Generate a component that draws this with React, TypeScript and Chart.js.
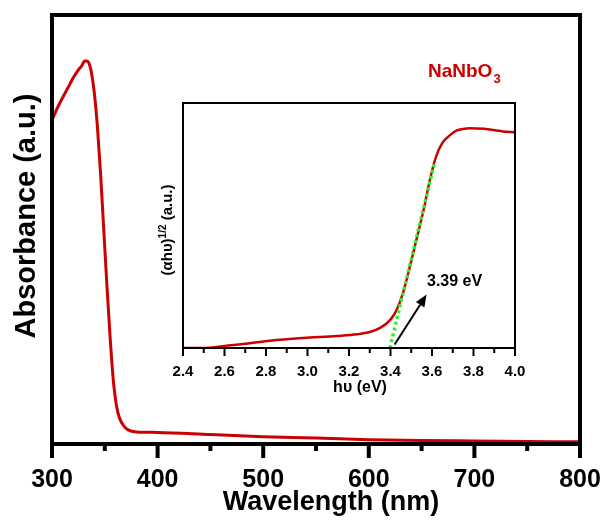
import React, { useEffect, useRef } from 'react';
import { Chart, registerables } from 'chart.js';

Chart.register(...registerables);

// ---------- Data ----------
const wavelengthNm = [300, 305, 310, 315, 320, 325, 328, 331, 333, 335, 337, 340, 343, 346, 349, 352, 355, 358, 361, 364, 368, 372, 380, 400, 450, 500, 550, 600, 650, 700, 750, 800];
const absorbance = [0.755, 0.783, 0.807, 0.83, 0.853, 0.872, 0.881, 0.893, 0.893, 0.888, 0.87, 0.82, 0.74, 0.63, 0.5, 0.37, 0.25, 0.15, 0.09, 0.06, 0.042, 0.033, 0.028, 0.027, 0.022, 0.017, 0.014, 0.01, 0.008, 0.007, 0.006, 0.005];
const mainMajorTicks = [300, 400, 500, 600, 700, 800];
const mainMinorTicks = [350, 450, 550, 650, 750];

const photonEnergyEv = [2.4, 2.5, 2.59, 2.69, 2.82, 2.98, 3.14, 3.24, 3.3, 3.35, 3.4, 3.43, 3.46, 3.49, 3.525, 3.56, 3.59, 3.62, 3.65, 3.69, 3.72, 3.75, 3.78, 3.85, 3.91, 3.94, 4.0];
const tauc = [0, 0, 0.007, 0.016, 0.03, 0.041, 0.049, 0.056, 0.065, 0.082, 0.116, 0.156, 0.224, 0.32, 0.442, 0.565, 0.687, 0.782, 0.837, 0.871, 0.888, 0.894, 0.897, 0.895, 0.888, 0.884, 0.88];
const fitLineEv = [3.397, 3.614];
const fitLineValues = [0, 0.762];
const arrowEv = [3.42, 3.574];
const arrowValues = [0.014, 0.218];
const insetMajorTicks = [2.4, 2.6, 2.8, 3.0, 3.2, 3.4, 3.6, 3.8, 4.0];
const insetMinorTicks = [2.5, 2.7, 2.9, 3.1, 3.3, 3.5, 3.7, 3.9];

const sampleName = 'NaNbO';
const sampleSub = '3';
const bandGapLabel = '3.39 eV';

// ---------- Styles ----------
const FONT = '"Liberation Sans", Arial, Helvetica, sans-serif';
const RED = '#cc0000';
const GREEN = '#33ee33';

const mainPlugin = {
  id: 'mainDecor',
  afterDatasetsDraw(chart: any) {
    const { ctx, chartArea: a, scales } = chart;
    const x = scales.x;
    ctx.save();
    ctx.strokeStyle = '#000';
    ctx.lineWidth = 4;
    ctx.strokeRect(a.left, a.top, a.right - a.left, a.bottom - a.top);
    ctx.beginPath();
    mainMajorTicks.forEach((v) => {
      const px = x.getPixelForValue(v);
      ctx.moveTo(px, a.bottom);
      ctx.lineTo(px, a.bottom + 14);
    });
    mainMinorTicks.forEach((v) => {
      const px = x.getPixelForValue(v);
      ctx.moveTo(px, a.bottom);
      ctx.lineTo(px, a.bottom + 7);
    });
    ctx.stroke();

    ctx.fillStyle = '#000';
    ctx.textAlign = 'center';
    ctx.textBaseline = 'middle';
    ctx.font = `bold 27px ${FONT}`;
    ctx.fillText('Wavelength (nm)', 331, 503);

    ctx.save();
    ctx.translate(27, 216);
    ctx.rotate(-Math.PI / 2);
    ctx.font = `bold 29px ${FONT}`;
    ctx.fillText('Absorbance (a.u.)', 0, 0);
    ctx.restore();

    ctx.fillStyle = RED;
    ctx.textAlign = 'left';
    ctx.textBaseline = 'alphabetic';
    ctx.font = `bold 19px ${FONT}`;
    ctx.fillText(sampleName, 428, 77);
    const w = ctx.measureText(sampleName).width;
    ctx.font = `bold 13px ${FONT}`;
    ctx.fillText(sampleSub, 428 + w + 1, 83);
    ctx.restore();
  },
};

const insetPlugin = {
  id: 'insetDecor',
  afterDatasetsDraw(chart: any) {
    const { ctx, chartArea: a, scales } = chart;
    const x = scales.x;
    const y = scales.y;
    ctx.save();
    ctx.strokeStyle = '#000';
    ctx.lineWidth = 2;
    ctx.strokeRect(a.left, a.top, a.right - a.left, a.bottom - a.top);
    ctx.beginPath();
    insetMajorTicks.forEach((v) => {
      const px = x.getPixelForValue(v);
      ctx.moveTo(px, a.bottom);
      ctx.lineTo(px, a.bottom + 8);
    });
    insetMinorTicks.forEach((v) => {
      const px = x.getPixelForValue(v);
      ctx.moveTo(px, a.bottom);
      ctx.lineTo(px, a.bottom + 5);
    });
    ctx.stroke();

    // arrow
    const x0 = x.getPixelForValue(arrowEv[0]);
    const y0 = y.getPixelForValue(arrowValues[0]);
    const x1 = x.getPixelForValue(arrowEv[1]);
    const y1 = y.getPixelForValue(arrowValues[1]);
    const ang = Math.atan2(y1 - y0, x1 - x0);
    const headLen = 12;
    const headW = 5;
    const bx = x1 - headLen * Math.cos(ang);
    const by = y1 - headLen * Math.sin(ang);
    ctx.lineWidth = 2;
    ctx.beginPath();
    ctx.moveTo(x0, y0);
    ctx.lineTo(bx, by);
    ctx.stroke();
    ctx.fillStyle = '#000';
    ctx.beginPath();
    ctx.moveTo(x1, y1);
    ctx.lineTo(bx + headW * Math.sin(ang), by - headW * Math.cos(ang));
    ctx.lineTo(bx - headW * Math.sin(ang), by + headW * Math.cos(ang));
    ctx.closePath();
    ctx.fill();

    // band gap label
    ctx.textAlign = 'left';
    ctx.textBaseline = 'alphabetic';
    ctx.font = `bold 16px ${FONT}`;
    ctx.fillText(bandGapLabel, 277, 191);

    // x title
    ctx.textAlign = 'center';
    ctx.textBaseline = 'middle';
    ctx.font = `bold 16px ${FONT}`;
    ctx.fillText('h\u03c5 (eV)', 210, 293);

    // y title with superscript
    const p1 = '(\u03b1h\u03c5)';
    const p2 = '1/2';
    const p3 = ' (a.u.)';
    ctx.save();
    ctx.translate(17, 135);
    ctx.rotate(-Math.PI / 2);
    ctx.font = `bold 15px ${FONT}`;
    const w1 = ctx.measureText(p1).width;
    const w3 = ctx.measureText(p3).width;
    ctx.font = `bold 10px ${FONT}`;
    const w2 = ctx.measureText(p2).width;
    const total = w1 + w2 + w3;
    let cx = -total / 2;
    ctx.textAlign = 'left';
    ctx.textBaseline = 'alphabetic';
    ctx.font = `bold 15px ${FONT}`;
    ctx.fillText(p1, cx, 5);
    cx += w1;
    ctx.font = `bold 10px ${FONT}`;
    ctx.fillText(p2, cx, -1);
    cx += w2;
    ctx.font = `bold 15px ${FONT}`;
    ctx.fillText(p3, cx, 5);
    ctx.restore();
    ctx.restore();
  },
};

export default function App() {
  const mainRef = useRef<HTMLCanvasElement>(null);
  const insetRef = useRef<HTMLCanvasElement>(null);

  useEffect(() => {
    const main = new Chart(mainRef.current as HTMLCanvasElement, {
      type: 'line',
      data: {
        datasets: [
          {
            data: wavelengthNm.map((v, i) => ({ x: v, y: absorbance[i] })),
            borderColor: RED,
            borderWidth: 3,
            pointRadius: 0,
            cubicInterpolationMode: 'monotone',
            fill: false,
          },
        ],
      },
      options: {
        responsive: false,
        animation: false,
        layout: { padding: { top: 15, right: 24, left: 0, bottom: 0 } },
        plugins: { legend: { display: false }, tooltip: { enabled: false } },
        scales: {
          x: {
            type: 'linear',
            min: 300,
            max: 800,
            grid: { display: false, drawTicks: false },
            border: { display: false },
            afterBuildTicks: (s: any) => {
              s.ticks = mainMajorTicks.map((v) => ({ value: v }));
            },
            afterFit: (s: any) => {
              s.height = 77;
              s.paddingLeft = 0;
              s.paddingRight = 0;
            },
            ticks: {
              padding: 21,
              color: '#000',
              font: { family: FONT, size: 25, weight: 'bold' },
              maxRotation: 0,
              callback: (v: any) => String(v),
            },
          },
          y: {
            min: 0,
            max: 1,
            grid: { display: false, drawTicks: false },
            border: { display: false },
            ticks: { display: false },
            afterFit: (s: any) => {
              s.width = 52;
              s.paddingTop = 0;
              s.paddingBottom = 0;
            },
          },
        },
      } as any,
      plugins: [mainPlugin],
    });

    const inset = new Chart(insetRef.current as HTMLCanvasElement, {
      type: 'line',
      data: {
        datasets: [
          {
            data: photonEnergyEv.map((v, i) => ({ x: v, y: tauc[i] })),
            borderColor: RED,
            borderWidth: 2.5,
            pointRadius: 0,
            cubicInterpolationMode: 'monotone',
            fill: false,
            order: 2,
          },
          {
            data: fitLineEv.map((v, i) => ({ x: v, y: fitLineValues[i] })),
            borderColor: GREEN,
            borderWidth: 3.5,
            borderDash: [3, 3],
            pointRadius: 0,
            fill: false,
            order: 1,
          },
        ],
      },
      options: {
        responsive: false,
        animation: false,
        layout: { padding: { top: 8, right: 20, left: 0, bottom: 0 } },
        plugins: { legend: { display: false }, tooltip: { enabled: false } },
        scales: {
          x: {
            type: 'linear',
            min: 2.4,
            max: 4.0,
            grid: { display: false, drawTicks: false },
            border: { display: false },
            afterBuildTicks: (s: any) => {
              s.ticks = insetMajorTicks.map((v) => ({ value: v }));
            },
            afterFit: (s: any) => {
              s.height = 52;
              s.paddingLeft = 0;
              s.paddingRight = 0;
            },
            ticks: {
              padding: 15,
              color: '#000',
              font: { family: FONT, size: 15, weight: 'bold' },
              maxRotation: 0,
              callback: (v: any) => Number(v).toFixed(1),
            },
          },
          y: {
            min: 0,
            max: 1,
            grid: { display: false, drawTicks: false },
            border: { display: false },
            ticks: { display: false },
            afterFit: (s: any) => {
              s.width = 33;
              s.paddingTop = 0;
              s.paddingBottom = 0;
            },
          },
        },
      } as any,
      plugins: [insetPlugin],
    });

    return () => {
      main.destroy();
      inset.destroy();
    };
  }, []);

  return (
    <div style={{ position: 'absolute', left: 0, top: 0, width: 604, height: 521, background: '#fff', overflow: 'hidden' }}>
      <canvas ref={mainRef} width={604} height={521} style={{ position: 'absolute', left: 0, top: 0 }} />
      <canvas ref={insetRef} width={385} height={305} style={{ position: 'absolute', left: 150, top: 95 }} />
    </div>
  );
}
